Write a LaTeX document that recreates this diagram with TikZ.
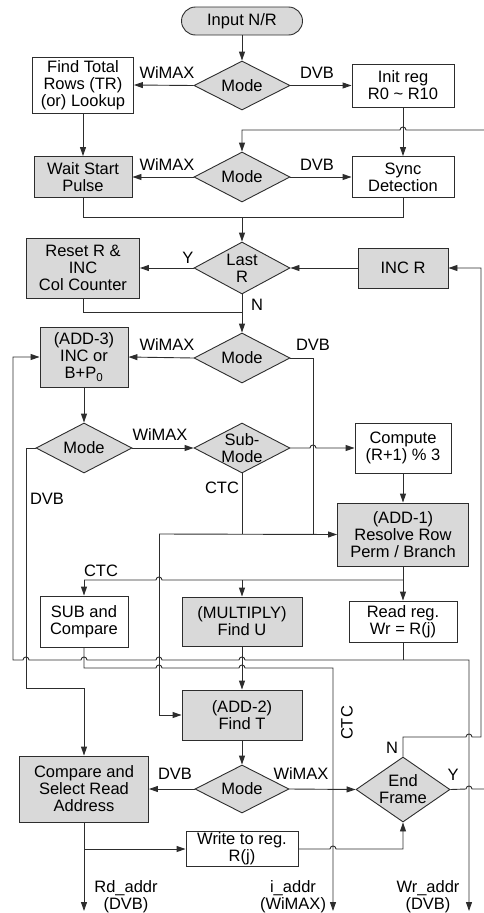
\documentclass[tikz,border=0pt]{standalone}
\usepackage{fontspec}
\setmainfont{Liberation Sans}
\usetikzlibrary{shapes.geometric,arrows.meta}
\definecolor{fgrey}{RGB}{217,217,217}
\definecolor{lcol}{RGB}{45,45,45}
\newcommand{\hopR}[2]{-- ({#1-3},{#2}) .. controls ({#1-3},{#2-4}) and ({#1+3},{#2-4}) .. ({#1+3},{#2})}
\begin{document}
\begin{tikzpicture}[x=1pt,y=-1pt,font=\fontsize{16.5}{17}\selectfont,color=lcol,text=black,line width=0.9pt,
  box/.style={draw,align=center,inner sep=1pt},
  gbox/.style={box,fill=fgrey},
  dia/.style={diamond,draw,fill=fgrey,inner sep=0pt},
  sz/.style 2 args={minimum width=#1pt,minimum height=#2pt},
  arr/.style={-{Triangle[length=9pt,width=6pt]}},
  rarr/.style={{Triangle[length=9pt,width=6pt]}-},
  both/.style={{Triangle[length=9pt,width=6pt]}-{Triangle[length=9pt,width=6pt]}},
  lbl/.style={inner sep=0pt,align=center}]
\useasboundingbox (0,0) rectangle (484,913);
% nodes
\node[gbox,rounded corners=14pt,sz={121}{28}] (in) at (242,21) {Input N/R};
\node[dia,sz={96}{49}] (m1) at (242,85.5) {}; \node[lbl] (m1t) at (m1) {Mode};
\node[box,sz={101}{56}] (ft) at (83,85) {Find Total\\Rows (TR)\\(or) Lookup};
\node[box,sz={102}{43}] (ir) at (403,85.5) {Init reg\\R0 \textasciitilde{} R10};
\node[dia,sz={96}{50}] (m2) at (242,177) {}; \node[lbl] (m2t) at (m2) {Mode};
\node[gbox,sz={98}{41}] (ws) at (83,177) {Wait Start\\Pulse};
\node[box,sz={102}{41}] (sd) at (403,177) {Sync\\Detection};
\node[dia,sz={96}{52}] (lr) at (242,268) {}; \node[lbl] (lrt) at (lr) {Last\\R};
\node[gbox,sz={113}{60}] (rr) at (83,268) {Reset R \&\\INC\\Col Counter};
\node[gbox,sz={90}{40}] (incr) at (403,268) {INC R};
\node[dia,sz={96}{50}] (m3) at (242,358) {}; \node[lbl] (m3t) at (m3) {Mode};
\node[gbox,sz={88}{60}] (a3) at (84,357) {(ADD-3)\\INC or\\B+P\textsubscript{0}};
\node[dia,sz={96}{50}] (m4) at (84,448) {}; \node[lbl] (m4t) at (m4) {Mode};
\node[dia,sz={96}{50}] (sm) at (242,448) {}; \node[lbl] (smt) at (sm) {Sub-\\Mode};
\node[box,sz={96}{50}] (cp) at (403,448) {Compute\\(R+1) \% 3};
\node[gbox,sz={131}{63}] (a1) at (403,534.5) {(ADD-1)\\Resolve Row\\Perm / Branch};
\node[box,sz={88}{51}] (sub) at (84,621.5) {SUB and\\Compare};
\node[gbox,sz={120}{49}] (mul) at (242,621.5) {(MULTIPLY)\\Find U};
\node[box,sz={108}{41}] (rd) at (403,621.5) {Read reg.\\Wr = R(j)};
\node[gbox,sz={120}{50}] (a2) at (242,715) {(ADD-2)\\Find T};
\node[gbox,sz={129}{66}] (cs) at (84,789) {Compare and\\Select Read\\Address};
\node[dia,sz={94}{48}] (m5) at (242,789) {}; \node[lbl] (m5t) at (m5) {Mode};
\node[dia,sz={94}{65}] (ef) at (403,789.5) {}; \node[lbl] (eft) at (ef) {End\\Frame};
\node[box,sz={112}{33}] (wr) at (242,849) {Write to reg.\\R(j)};
\coordinate (e1) at (484,130);
\coordinate (e2) at (484,789);
\coordinate (o1) at (84,911);
\coordinate (o2) at (333,911);
\coordinate (o3) at (469,911);
% connectors
\draw[arr] (in.south) -- (m1.north);
\draw[arr] (m1.west) -- (ft.east);
\draw[arr] (m1.east) -- (ir.west);
\draw[arr] (ft.south) -- (ws.north);
\draw[arr] (ir.south) -- (sd.north);
\draw[rarr] (m2.north) -- (242,130) \hopR{403}{130} -- (e1);
\draw[arr] (m2.west) -- (ws.east);
\draw[arr] (m2.east) -- (sd.west);
\draw (ws.south) -- (83,217) -- (403,217) -- (sd.south);
\draw[arr] (242,217) -- (lr.north);
\draw[arr] (lr.west) -- (rr.east);
\draw[arr] (incr.west) -- (lr.east);
\draw[arr] (ef.north) -- (403,737) \hopR{469}{737} -- (481,737) -- (481,268) -- (incr.east);
\draw (rr.south) -- (83,312) -- (242,312);
\draw[arr] (lr.south) -- (m3.north);
\draw[arr] (m3.west) -- (a3.east);
\draw (m3.east) -- (313,358) -- (313,534);
\draw[arr] (a3.south) -- (m4.north);
\draw[arr] (m4.east) -- (sm.west);
\draw[arr] (sm.east) \hopR{313}{448} -- (cp.west);
\draw[arr] (cp.south) -- (a1.north);
\draw (sm.south) -- (242,534);
\draw[arr] (159,534) -- (a1.west);
\draw[arr] (159,534) -- (159,715) -- (a2.west);
\draw[arr] (m4.west) -- (26,448) -- (26,688) -- (84,688) -- (cs.north);
\draw (a1.south) -- (403,580);
\draw (84,580) \hopR{159}{580} -- (403,580);
\draw[arr] (84,580) -- (sub.north);
\draw[arr] (242,580) -- (mul.north);
\draw[arr] (403,580) -- (rd.north);
\draw (rd.south) -- (403,660);
\draw[both] (a3.west) -- (13,357) -- (13,660) \hopR{26}{660} \hopR{84}{660} \hopR{159}{660} \hopR{242}{660} -- (469,660) -- (o3);
\draw[arr] (sub.south) -- (84,668) \hopR{159}{668} \hopR{242}{668} -- (333,668) -- (o2);
\draw[arr] (mul.south) -- (a2.north);
\draw[arr] (a2.south) -- (m5.north);
\draw[arr] (m5.west) -- (cs.east);
\draw[arr] (m5.east) -- (ef.west);
\draw (ef.east) \hopR{469}{789} -- (e2);
\draw[arr] (cs.south) -- (o1);
\draw[arr] (84,849) -- (wr.west);
\draw[arr] (wr.east) \hopR{333}{849} -- (403,849) -- (ef.south);
% labels
\node[lbl] (l1) at (167,73) {WiMAX};
\node[lbl] (l2) at (317,73) {DVB};
\node[lbl] (l3) at (167,165) {WiMAX};
\node[lbl] (l4) at (317,165) {DVB};
\node[lbl] (l5) at (188,258) {Y};
\node[lbl] (l6) at (257,305) {N};
\node[lbl] (l7) at (167,345) {WiMAX};
\node[lbl] (l8) at (313,345) {DVB};
\node[lbl] (l9) at (160,435) {WiMAX};
\node[lbl] (l10) at (222,488) {CTC};
\node[lbl] (l11) at (47,499) {DVB};
\node[lbl] (l12) at (101,571) {CTC};
\node[lbl,rotate=90] (l13) at (347,723) {CTC};
\node[lbl] (l14) at (392,748) {N};
\node[lbl] (l15) at (453,775) {Y};
\node[lbl] (l16) at (175,774) {DVB};
\node[lbl] (l17) at (301,774) {WiMAX};
\node[lbl] (l18) at (126,897) {Rd\_addr\\(DVB)};
\node[lbl] (l19) at (293,897) {i\_addr\\(WiMAX)};
\node[lbl] (l20) at (428,897) {Wr\_addr\\(DVB)};
\end{tikzpicture}
\end{document}
